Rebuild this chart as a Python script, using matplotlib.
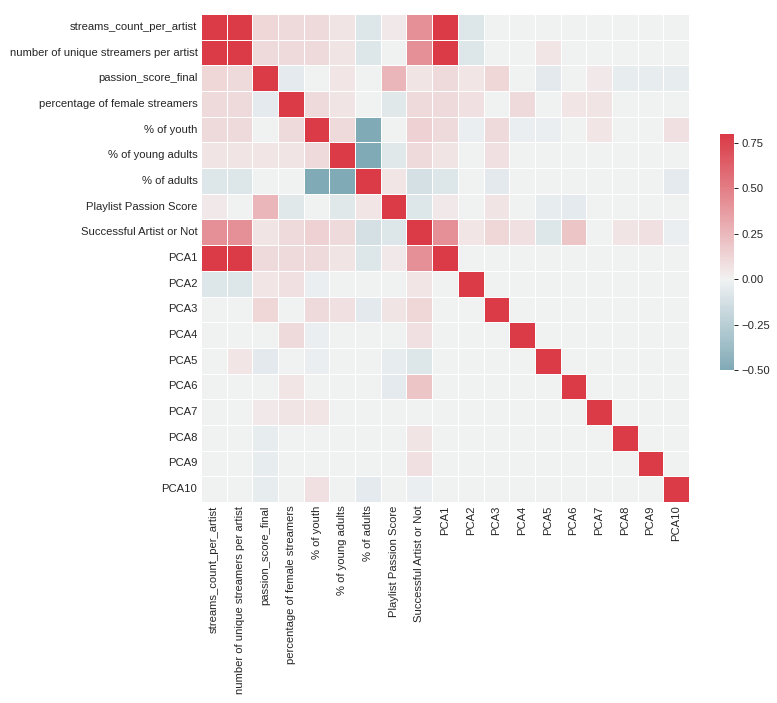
import numpy as np
import pandas as pd
import matplotlib
matplotlib.use("Agg")
import matplotlib.pyplot as plt
import seaborn as sns

labels = ["streams_count_per_artist", "number of unique streamers per artist",
          "passion_score_final", "percentage of female streamers", "% of youth",
          "% of young adults", "% of adults", "Playlist Passion Score",
          "Successful Artist or Not", "PCA1", "PCA2", "PCA3", "PCA4", "PCA5",
          "PCA6", "PCA7", "PCA8", "PCA9", "PCA10"]

# correlation rows
r_streams = [1.00, 0.97, 0.12, 0.10, 0.10, 0.06, -0.08, 0.04, 0.42, 0.95, -0.08, 0, 0, 0, 0, 0, 0, 0, 0]
r_unique  = [0.97, 1.00, 0.10, 0.10, 0.10, 0.06, -0.08, 0.00, 0.42, 0.95, -0.08, 0, 0, 0.05, 0, 0, 0, 0, 0]
r_passion = [0.12, 0.10, 1.00, -0.05, 0.00, 0.05, 0.00, 0.26, 0.06, 0.10, 0.05, 0.12, 0, -0.06, 0, 0.04, -0.04, -0.04, -0.04]
r_female  = [0.10, 0.10, -0.05, 1.00, 0.10, 0.06, 0.00, -0.07, 0.10, 0.10, 0.08, 0, 0.10, 0, 0.05, 0.06, 0, 0, 0]
r_youth   = [0.10, 0.10, 0.00, 0.10, 1.00, 0.10, -0.50, 0.00, 0.14, 0.10, -0.03, 0.10, -0.03, -0.03, 0, 0.05, 0, 0, 0.08]
r_yadult  = [0.06, 0.06, 0.05, 0.06, 0.10, 1.00, -0.50, -0.07, 0.10, 0.06, 0, 0.08, 0, 0, 0, 0, 0, 0, 0]
r_adult   = [-0.08, -0.08, 0.00, 0.00, -0.50, -0.50, 1.00, 0.05, -0.12, -0.08, 0, -0.06, 0, 0, 0, 0, 0, 0, -0.05]
r_plpass  = [0.04, 0.00, 0.26, -0.07, 0.00, -0.07, 0.05, 1.00, -0.08, 0.04, 0, 0.06, 0, -0.04, -0.05, 0, 0, 0, 0]
r_success = [0.42, 0.42, 0.06, 0.10, 0.14, 0.10, -0.12, -0.08, 1.00, 0.42, 0.05, 0.12, 0.08, -0.08, 0.20, 0, 0.06, 0.08, -0.03]
r_pca1    = [0.95, 0.95, 0.10, 0.10, 0.10, 0.06, -0.08, 0.04, 0.42, 1, 0, 0, 0, 0, 0, 0, 0, 0, 0]
r_pca2    = [-0.08, -0.08, 0.05, 0.08, -0.03, 0, 0, 0, 0.05, 0, 1, 0, 0, 0, 0, 0, 0, 0, 0]
r_pca3    = [0, 0, 0.12, 0, 0.10, 0.08, -0.06, 0.06, 0.12, 0, 0, 1, 0, 0, 0, 0, 0, 0, 0]
r_pca4    = [0, 0, 0, 0.10, -0.03, 0, 0, 0, 0.08, 0, 0, 0, 1, 0, 0, 0, 0, 0, 0]
r_pca5    = [0, 0.05, -0.06, 0, -0.03, 0, 0, -0.04, -0.08, 0, 0, 0, 0, 1, 0, 0, 0, 0, 0]
r_pca6    = [0, 0, 0, 0.05, 0, 0, 0, -0.05, 0.20, 0, 0, 0, 0, 0, 1, 0, 0, 0, 0]
r_pca7    = [0, 0, 0.04, 0.06, 0.05, 0, 0, 0, 0, 0, 0, 0, 0, 0, 0, 1, 0, 0, 0]
r_pca8    = [0, 0, -0.04, 0, 0, 0, 0, 0, 0.06, 0, 0, 0, 0, 0, 0, 0, 1, 0, 0]
r_pca9    = [0, 0, -0.04, 0, 0, 0, 0, 0, 0.08, 0, 0, 0, 0, 0, 0, 0, 0, 1, 0]
r_pca10   = [0, 0, -0.04, 0, 0.08, 0, -0.05, 0, -0.03, 0, 0, 0, 0, 0, 0, 0, 0, 0, 1]

rows = [r_streams, r_unique, r_passion, r_female, r_youth, r_yadult, r_adult,
        r_plpass, r_success, r_pca1, r_pca2, r_pca3, r_pca4, r_pca5, r_pca6,
        r_pca7, r_pca8, r_pca9, r_pca10]
corr = pd.DataFrame(rows, index=labels, columns=labels)

cbar_ticks = [-0.50, -0.25, 0.00, 0.25, 0.50, 0.75]

sns.set_theme(style="white")
plt.rcParams['font.family'] = ['Liberation Sans', 'DejaVu Sans']
plt.rcParams['xtick.labelsize'] = 11.2
plt.rcParams['ytick.labelsize'] = 11.2
fig = plt.figure(figsize=(777 / 72, 703 / 72), dpi=72)
ax = fig.add_axes([201 / 777, 1 - 502 / 703, 488 / 777, 488 / 703])
cax = fig.add_axes([720 / 777, 1 - 370 / 703, 14 / 777, 236 / 703])
cmap = sns.diverging_palette(220, 10, as_cmap=True)
sns.heatmap(corr, cmap=cmap, vmax=.8, center=0, square=True, linewidths=.5,
            ax=ax, cbar_ax=cax)
ax.tick_params(length=0)
cax.set_yticks(cbar_ticks)
cax.set_yticklabels([f"{t:.2f}".replace("-", "\u2212") for t in cbar_ticks])
cax.tick_params(axis='y', length=4, width=1, color='#262626', direction='out', right=True)
fig.savefig("out.png", dpi=72)
